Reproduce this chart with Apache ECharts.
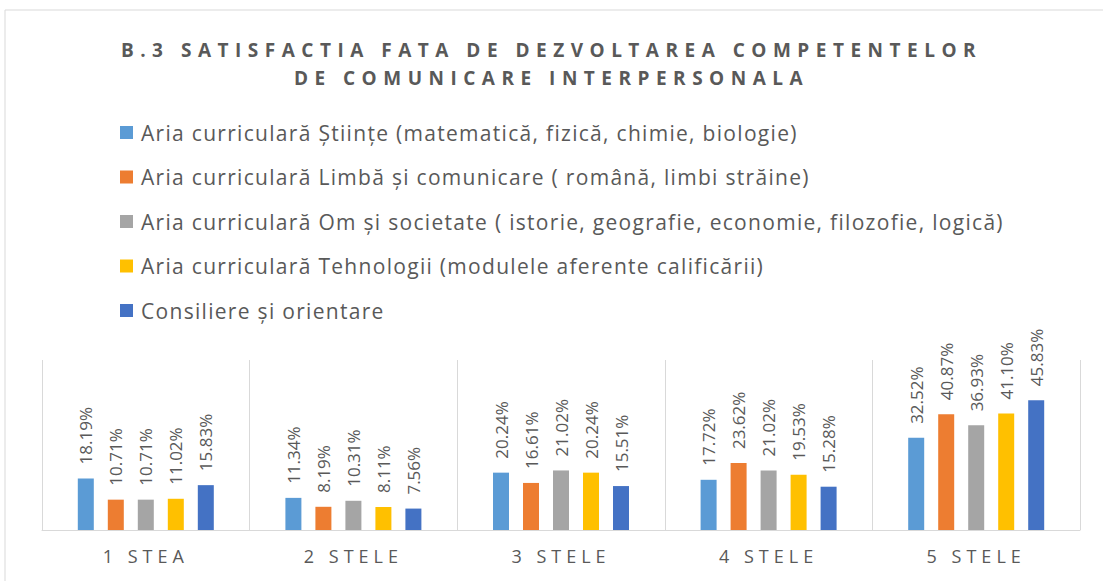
<!DOCTYPE html>
<html>
<head>
<meta charset="utf-8">
<script src="https://cdn.jsdelivr.net/npm/echarts@6/dist/echarts.min.js"></script>
<style>
  html, body { margin: 0; padding: 0; background: #fff; }
  #chart { width: 1103px; height: 581px; }
</style>
</head>
<body>
<div id="chart"></div>
<script>
const categories = ['1 STEA', '2 STELE', '3 STELE', '4 STELE', '5 STELE'];
const seriesNames = [
  'Aria curriculară Științe (matematică, fizică, chimie, biologie)',
  'Aria curriculară Limbă și comunicare ( română, limbi străine)',
  'Aria curriculară Om și societate ( istorie, geografie, economie, filozofie, logică)',
  'Aria curriculară Tehnologii (modulele aferente calificării)',
  'Consiliere și orientare'
];
const stiinte = [18.19, 11.34, 20.24, 17.72, 32.52];
const limba = [10.71, 8.19, 16.61, 23.62, 40.87];
const omSocietate = [10.71, 10.31, 21.02, 21.02, 36.93];
const tehnologii = [11.02, 8.11, 20.24, 19.53, 41.10];
const consiliere = [15.83, 7.56, 15.51, 15.28, 45.83];
const colors = ['#5B9BD5', '#ED7D31', '#A5A5A5', '#FFC000', '#4472C4'];

const titleLines = ['B.3 SATISFACTIA FATA DE DEZVOLTAREA COMPETENTELOR', 'DE COMUNICARE INTERPERSONALA'];
const allValues = [stiinte, limba, omSocietate, tehnologii, consiliere];
const textColor = '#595959';
const font = '"Open Sans", "Noto Sans", sans-serif';

const chart = echarts.init(document.getElementById('chart'), null, { renderer: 'svg' });

const option = {
  color: colors,
  animation: false,
  title: {
    text: titleLines.join('\n'),
    left: 'center',
    top: 31,
    textStyle: {
      color: textColor,
      fontFamily: font,
      fontWeight: 'bold',
      fontSize: 19,
      lineHeight: 28
    }
  },
  legend: {
    orient: 'vertical',
    left: 115,
    top: 113,
    itemWidth: 13,
    itemHeight: 13,
    itemGap: 15.5,
    icon: 'rect',
    data: seriesNames,
    textStyle: {
      color: textColor,
      fontFamily: font,
      fontSize: 21,
      lineHeight: 29,
      padding: [0, 0, 0, 3]
    }
  },
  graphic: [{
    type: 'rect',
    shape: { x: 5, y: 10, width: 1200, height: 700 },
    style: { fill: 'none', stroke: '#d9d9d9', lineWidth: 1 },
    silent: true
  }],
  grid: { left: 42, right: 23, top: 360, bottom: 51 },
  xAxis: {
    type: 'category',
    data: categories,
    axisLine: { lineStyle: { color: '#d9d9d9' } },
    axisTick: { show: false },
    splitLine: { show: true, lineStyle: { color: '#d9d9d9' } },
    axisLabel: {
      color: textColor,
      fontFamily: font,
      fontSize: 18,
      margin: 17
    }
  },
  yAxis: {
    type: 'value',
    min: 0,
    max: 60,
    show: false,
    splitLine: { show: false }
  },
  series: allValues.map((vals, i) => ({
    name: seriesNames[i],
    type: 'bar',
    data: vals,
    barWidth: 16,
    barGap: '87.5%',
    itemStyle: { color: colors[i] },
    label: {
      show: true,
      position: 'top',
      rotate: 90,
      align: 'left',
      verticalAlign: 'middle',
      distance: 14,
      color: textColor,
      fontFamily: font,
      fontSize: 17,
      formatter: p => p.value.toFixed(2) + '%'
    }
  }))
};

chart.setOption(option);

// the original chart uses wide letter spacing for the title and axis labels
function spaceLetters() {
  document.querySelectorAll('#chart svg text').forEach(t => {
    const s = t.textContent;
    if (titleLines.includes(s)) t.setAttribute('letter-spacing', '6.5');
    else if (categories.includes(s)) t.setAttribute('letter-spacing', '5');
    else if (seriesNames.includes(s)) t.setAttribute('letter-spacing', '1.3');
  });
}
spaceLetters();
chart.on('finished', spaceLetters);
</script>
</body>
</html>
